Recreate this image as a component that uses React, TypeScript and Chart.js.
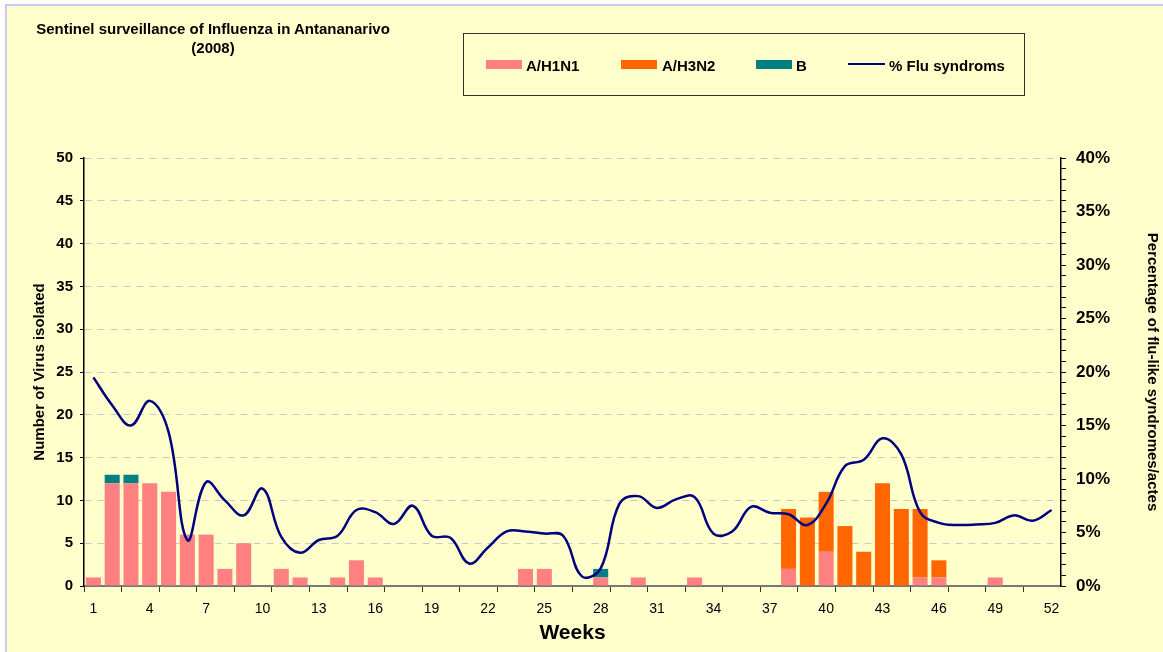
import React, { useEffect, useRef } from 'react';
import { Chart, registerables } from 'chart.js';

Chart.register(...registerables);

const FONT = "'Liberation Sans', Arial, Helvetica, sans-serif";

const weeks = [
  '1', '2', '3', '4', '5', '6', '7', '8', '9', '10', '11', '12', '13',
  '14', '15', '16', '17', '18', '19', '20', '21', '22', '23', '24', '25', '26',
  '27', '28', '29', '30', '31', '32', '33', '34', '35', '36', '37', '38', '39',
  '40', '41', '42', '43', '44', '45', '46', '47', '48', '49', '50', '51', '52',
];

const shownWeekLabels = ['1', '4', '7', '10', '13', '16', '19', '22', '25', '28', '31', '34', '37', '40', '43', '46', '49', '52'];

const h1n1 = [
  1, 12, 12, 12, 11, 6, 6, 2, 5, 0, 2, 1, 0,
  1, 3, 1, 0, 0, 0, 0, 0, 0, 0, 2, 2, 0,
  0, 1, 0, 1, 0, 0, 1, 0, 0, 0, 0, 2, 0,
  4, 0, 0, 0, 0, 1, 1, 0, 0, 1, 0, 0, 0,
];

const h3n2 = [
  0, 0, 0, 0, 0, 0, 0, 0, 0, 0, 0, 0, 0,
  0, 0, 0, 0, 0, 0, 0, 0, 0, 0, 0, 0, 0,
  0, 0, 0, 0, 0, 0, 0, 0, 0, 0, 0, 7, 8,
  7, 7, 4, 12, 9, 8, 2, 0, 0, 0, 0, 0, 0,
];

const fluB = [
  0, 1, 1, 0, 0, 0, 0, 0, 0, 0, 0, 0, 0,
  0, 0, 0, 0, 0, 0, 0, 0, 0, 0, 0, 0, 0,
  0, 1, 0, 0, 0, 0, 0, 0, 0, 0, 0, 0, 0,
  0, 0, 0, 0, 0, 0, 0, 0, 0, 0, 0, 0, 0,
];

const fluPct = [
  19.5, 16.9, 15.0, 17.3, 14.4, 4.3, 9.7, 8.0, 6.6, 9.1, 4.6, 3.1, 4.3,
  4.7, 7.1, 6.9, 5.8, 7.5, 4.7, 4.5, 2.1, 3.6, 5.1, 5.1, 4.9, 4.7,
  0.9, 1.65, 7.7, 8.4, 7.3, 8.1, 8.3, 4.9, 5.1, 7.4, 6.85, 6.7, 5.7,
  7.7, 11.2, 11.8, 13.8, 12.3, 6.9, 5.9, 5.7, 5.75, 5.9, 6.6, 6.1, 7.1,
];

const leftTicks = { min: 0, max: 50, step: 5 };
const rightTicks = { min: 0, max: 40, step: 1, labelEvery: 5 };

const COLORS = {
  h1n1: '#FF8080',
  h3n2: '#FF6600',
  b: '#008080',
  line: '#000080',
};

export default function App() {
  const ref = useRef<HTMLCanvasElement>(null);

  useEffect(() => {
    document.body.style.margin = '0';
    const canvas = ref.current;
    if (!canvas) return;
    const chart = new Chart(canvas, {
      type: 'bar',
      data: {
        labels: weeks,
        datasets: [
          {
            type: 'line',
            label: '% Flu syndroms',
            data: fluPct,
            yAxisID: 'y1',
            borderColor: COLORS.line,
            backgroundColor: COLORS.line,
            borderWidth: 2.5,
            pointRadius: 0,
            tension: 0.4,
            fill: false,
            order: 0,
          } as any,
          {
            label: 'A/H1N1',
            data: h1n1,
            backgroundColor: COLORS.h1n1,
            yAxisID: 'y',
            order: 1,
            barPercentage: 0.8,
            categoryPercentage: 1,
          },
          {
            label: 'A/H3N2',
            data: h3n2,
            backgroundColor: COLORS.h3n2,
            yAxisID: 'y',
            order: 1,
            barPercentage: 0.8,
            categoryPercentage: 1,
          },
          {
            label: 'B',
            data: fluB,
            backgroundColor: COLORS.b,
            yAxisID: 'y',
            order: 1,
            barPercentage: 0.8,
            categoryPercentage: 1,
          },
        ],
      },
      options: {
        responsive: false,
        maintainAspectRatio: false,
        animation: false,
        devicePixelRatio: 1,
        layout: { padding: { top: 158, left: 0, right: 0, bottom: 0 } },
        plugins: {
          legend: { display: false },
          tooltip: { enabled: false },
          title: { display: false },
        },
        scales: {
          x: {
            type: 'category',
            stacked: true,
            offset: true,
            grid: {
              offset: true,
              drawOnChartArea: false,
              drawTicks: true,
              tickLength: 6,
              tickWidth: 1,
              tickColor: (ctx: any) => (ctx.index % 2 === 0 ? '#333333' : 'rgba(0,0,0,0)'),
            },
            border: { color: '#777777', width: 2 },
            ticks: {
              autoSkip: false,
              maxRotation: 0,
              minRotation: 0,
              padding: 9,
              color: '#000',
              font: { family: FONT, size: 14 },
              callback: (_v: any, i: number) => (shownWeekLabels.includes(weeks[i]) ? weeks[i] : ''),
            },
            title: {
              display: true,
              text: 'Weeks',
              color: '#000',
              font: { family: FONT, size: 21, weight: 'bold' },
              padding: { top: 0, bottom: 6 },
            },
            afterFit: (s: any) => {
              s.height = 66;
            },
          },
          y: {
            position: 'left',
            stacked: true,
            min: leftTicks.min,
            max: leftTicks.max,
            ticks: {
              stepSize: leftTicks.step,
              padding: 7,
              color: '#000',
              font: { family: FONT, size: 15, weight: 'bold' },
            },
            grid: {
              color: '#C8C8C8',
              lineWidth: 1,
              tickColor: '#000',
              tickLength: 4,
              tickBorderDash: [],
            },
            border: { color: '#000', width: 1.5, dash: [7, 6] },
            title: {
              display: true,
              text: 'Number of Virus isolated',
              color: '#000',
              font: { family: FONT, size: 15, weight: 'bold' },
              padding: { top: 31, bottom: 0 },
            },
            afterFit: (s: any) => {
              s.width = 84;
            },
          },
          y1: {
            position: 'right',
            min: rightTicks.min,
            max: rightTicks.max,
            ticks: {
              stepSize: rightTicks.step,
              autoSkip: false,
              padding: 10,
              color: '#000',
              font: { family: FONT, size: 17, weight: 'bold' },
              callback: (v: any) => (Number(v) % rightTicks.labelEvery === 0 ? v + '%' : ''),
            },
            grid: {
              drawOnChartArea: false,
              tickLength: 5,
              tickColor: '#000',
              tickWidth: 1,
            },
            border: { color: '#000', width: 1.5 },
            title: {
              display: true,
              text: 'Percentage of flu-like syndromes/actes',
              color: '#000',
              font: { family: FONT, size: 15, weight: 'bold' },
              padding: { top: 1.5, bottom: 0 },
            },
            afterFit: (s: any) => {
              s.width = 102;
            },
          },
        },
      } as any,
    });
    return () => chart.destroy();
  }, []);

  const legendText: React.CSSProperties = {
    position: 'absolute',
    top: 57.5,
    fontFamily: FONT,
    fontWeight: 'bold',
    fontSize: 15,
    lineHeight: '15px',
    color: '#000',
    whiteSpace: 'nowrap',
  };
  const swatch = (left: number, color: string): React.CSSProperties => ({
    position: 'absolute',
    left,
    top: 60,
    width: 36,
    height: 9,
    background: color,
  });

  return (
    <div
      style={{
        position: 'absolute',
        left: 0,
        top: 0,
        width: 1163,
        height: 652,
        overflow: 'hidden',
        background: '#FFFFFF',
      }}
    >
      <div
        style={{
          position: 'absolute',
          left: 5,
          top: 4,
          width: 1200,
          height: 700,
          background: '#FFFFCC',
          borderTop: '2px solid #C8C8F0',
          borderLeft: '2px solid #C8C8F0',
        }}
      />
      <canvas ref={ref} width={1163} height={652} style={{ position: 'absolute', left: 0, top: 0, width: 1163, height: 652 }} />
      <div
        style={{
          position: 'absolute',
          left: 0,
          top: 18.5,
          width: 426,
          textAlign: 'center',
          fontFamily: FONT,
          fontWeight: 'bold',
          fontSize: 15,
          lineHeight: '19.5px',
          color: '#000',
        }}
      >
        Sentinel surveillance of Influenza in Antananarivo
        <br />
        (2008)
      </div>
      <div
        style={{
          position: 'absolute',
          left: 463,
          top: 33,
          width: 560,
          height: 61,
          border: '1px solid #303030',
        }}
      />
      <div style={swatch(486, COLORS.h1n1)} />
      <div style={{ ...legendText, left: 526 }}>A/H1N1</div>
      <div style={swatch(621, COLORS.h3n2)} />
      <div style={{ ...legendText, left: 662 }}>A/H3N2</div>
      <div style={swatch(756, COLORS.b)} />
      <div style={{ ...legendText, left: 796 }}>B</div>
      <div style={{ position: 'absolute', left: 848, top: 62.5, width: 37, height: 2, background: COLORS.line }} />
      <div style={{ ...legendText, left: 889 }}>% Flu syndroms</div>
    </div>
  );
}
